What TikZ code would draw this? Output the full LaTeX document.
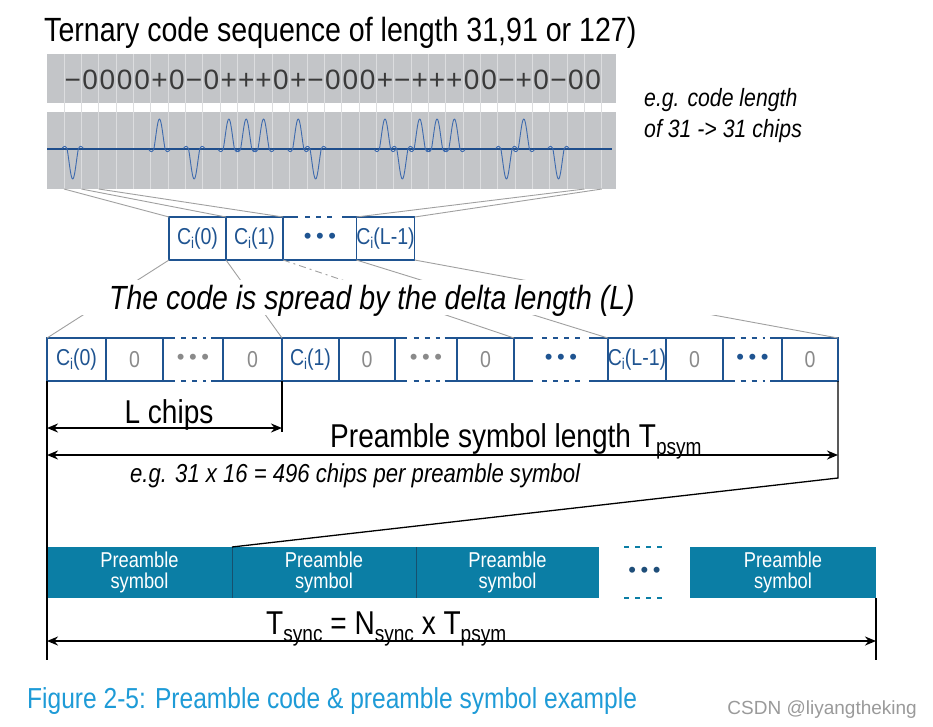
\documentclass[tikz,border=0pt]{standalone}
\usepackage{fontspec}
\usepackage{graphicx}
\setmainfont{Liberation Sans}
\newfontfamily\narrow{Liberation Sans}[FakeStretch=0.85]
\usetikzlibrary{arrows.meta,calc}
\definecolor{panelgrey}{HTML}{C3C5C8}
\definecolor{gridgrey}{HTML}{DCDDDF}
\definecolor{wavecol}{HTML}{3D6AAE}
\definecolor{wavebase}{HTML}{1F4E8C}
\definecolor{boxblue}{HTML}{1F5491}
\definecolor{zerogrey}{HTML}{8A8A8A}
\definecolor{spreadgrey}{HTML}{A0A0A0}
\definecolor{prefteal}{HTML}{0B7EA5}
\definecolor{pdark}{HTML}{17506E}
\definecolor{dotblue}{HTML}{1F4E79}
\definecolor{capblue}{HTML}{1E9BD7}
\definecolor{wmgrey}{HTML}{9A9A9A}
\definecolor{codegrey}{HTML}{3A3A3A}
\newcommand\dsub[2]{\raisebox{-#1}{\scalebox{0.68}{#2}}}
\newcommand\threedots{•\kern4.5pt•\kern4.5pt•}
\newcommand\dotedge[3][boxblue]{%
  \draw[edgeline,#1] (#2.#3 west) -- ($(#2.#3 west)!0.2!(#2.#3 east)$);
  \draw[edgeline,#1] ($(#2.#3 west)!0.8!(#2.#3 east)$) -- (#2.#3 east);
  \draw[edgeline,#1,dash pattern=on 5pt off 6pt] ($(#2.#3 west)!0.3!(#2.#3 east)$) -- ($(#2.#3 west)!0.72!(#2.#3 east)$);}
\begin{document}
\begin{tikzpicture}[x=1pt,y=-1pt,
  cbox/.style={draw=boxblue, line width=1.5pt, minimum height=43pt, inner sep=0pt, outer sep=0pt, font=\narrow\fontsize{23}{25}\selectfont, text=boxblue},
  zbox/.style={cbox, text=zerogrey},
  dbox/.style={minimum height=43pt, inner sep=0pt, outer sep=0pt, font=\fontsize{22}{24}\selectfont},
  pbox/.style={fill=prefteal, minimum height=51pt, inner sep=0pt, outer sep=0pt, text=white, align=center, font=\narrow\fontsize{21.5}{21}\selectfont},
  edgeline/.style={line width=1.5pt},
  spread/.style={spreadgrey, line width=0.9pt},
  tickline/.style={black, line width=1.3pt},
  dim/.style={line width=1.8pt, {Stealth[length=11pt,width=9pt]}-{Stealth[length=11pt,width=9pt]}},
  bigtxt/.style={font=\narrow\fontsize{33}{36}\selectfont},
  codech/.style={font=\fontsize{28}{30}\selectfont, text=codegrey, inner sep=0pt, anchor=base},
  wave/.style={wavecol, line width=0.9pt}]
\useasboundingbox (0,0) rectangle (933,726);
\fill[white] (0,0) rectangle (933,726);

% title
\node[anchor=base west, font=\narrow\fontsize{33.6}{36}\selectfont, inner sep=0pt] (title) at (44,41) {Ternary code sequence of length 31,91 or 127)};

% code panels
\fill[panelgrey] (47,54) rectangle (616,103);
\fill[panelgrey] (47,112) rectangle (616,189);
\foreach \k in {0,...,31} {
  \draw[gridgrey, line width=0.8pt] ({64+17.35*\k},54) -- ({64+17.35*\k},189);
  \coordinate (g\k) at ({64+17.35*\k},189);
}
\draw[wavebase, line width=1.6pt] (47,149) -- (612,149);
\foreach \s/\a [count=\k from 0] in {−/-1,0/0,0/0,0/0,0/0,+/1,0/0,−/-1,0/0,+/1,+/1,+/1,0/0,+/1,−/-1,0/0,0/0,0/0,+/1,−/-1,+/1,+/1,+/1,0/0,0/0,−/-1,+/1,0/0,−/-1,0/0,0/0} {
  \node[codech] (c\k) at ({72.7+17.35*\k},89) {\s};
  \ifnum\a=0 \else
    \draw[wave] plot[domain=-1.9:1.9, samples=39, smooth] ({72.7+17.35*\k+5.6*\x},{149-(\a)*30*sin(180*(\x))/(pi*(\x))*(abs(\x)<1 ? 1 : 0.4)});
  \fi
}

\node[anchor=base west, font=\narrow\itshape\fontsize{25}{30}\selectfont, inner sep=0pt] (eg1a) at (644,106) {e.g. code length};
\node[anchor=base west, font=\narrow\itshape\fontsize{25}{30}\selectfont, inner sep=0pt] (eg1b) at (644,137) {of 31 -> 31 chips};

% top row
\node[cbox, minimum width=57pt] (t0) at (197.5,238.5) {C\dsub{4pt}{i}(0)};
\node[cbox, minimum width=57pt] (t1) at (254.5,238.5) {C\dsub{4pt}{i}(1)};
\node[dbox, minimum width=74pt, text=boxblue] (t2) at (320,238.5) {\threedots};
\node[cbox, minimum width=57pt] (t3) at (385.5,238.5) {C\dsub{4pt}{i}(L-1)};
\draw[edgeline, boxblue] (t2.south west) -- (t2.south east);
\dotedge{t2}{north}

\draw[spread] (g0) -- (t0.north west);
\draw[spread] (g1) -- (t0.north east);
\draw[spread] (g2) -- (t1.north east);
\draw[spread] (g30) -- (t3.north west);
\draw[spread] (g31) -- (t3.north east);

% bottom row
\node[cbox, minimum width=59pt] (b1) at (76.5,359.5) {C\dsub{4pt}{i}(0)};
\node[zbox, minimum width=57pt] (b2) at (134.5,359.5) {0};
\node[dbox, minimum width=60pt, text=zerogrey] (b3) at (193,359.5) {\threedots};
\node[zbox, minimum width=59pt] (b4) at (252.5,359.5) {0};
\node[cbox, minimum width=57pt] (b5) at (310.5,359.5) {C\dsub{4pt}{i}(1)};
\node[zbox, minimum width=56pt] (b6) at (367,359.5) {0};
\node[dbox, minimum width=62pt, text=zerogrey] (b7) at (426,359.5) {\threedots};
\node[zbox, minimum width=57pt] (b8) at (485.5,359.5) {0};
\node[dbox, minimum width=94pt, text=boxblue] (b9) at (561,359.5) {\threedots};
\node[cbox, minimum width=58pt] (b10) at (637,359.5) {C\dsub{4pt}{i}(L-1)};
\node[zbox, minimum width=57pt] (b11) at (694.5,359.5) {0};
\node[dbox, minimum width=59pt, text=boxblue] (b12) at (752.5,359.5) {\threedots};
\node[zbox, minimum width=56pt] (b13) at (810,359.5) {0};
\foreach \b in {b3,b7,b9,b12} {
  \dotedge{\b}{north}
  \dotedge{\b}{south}
  \draw[boxblue, line width=2.2pt] (\b.north east) -- (\b.south east);
}

% spreading lines
\draw[spread] (t0.south west) -- (b1.north west);
\draw[spread] (t0.south east) -- (b5.north west);
\draw[spread, dash pattern=on 7pt off 4pt on 2pt off 4pt] (t1.south east) -- ($(t1.south east)!0.5!(b9.north west)$);
\draw[spread] ($(t1.south east)!0.5!(b9.north west)$) -- (b9.north west);
\draw[spread] (t3.south west) -- (b10.north west);
\draw[spread] (t3.south east) -- (b13.north east);
\fill[white] (40,280) rectangle (860,315);
\node[anchor=base, font=\narrow\itshape\fontsize{33.5}{36}\selectfont, inner sep=0pt] (spreadtxt) at (372,309) {The code is spread by the delta length (L)};

% preamble bar
\node[pbox, minimum width=185pt] (p1) at (139.5,572.5) {Preamble\\symbol};
\node[pbox, minimum width=184pt] (p2) at (324,572.5) {Preamble\\symbol};
\node[pbox, minimum width=183pt] (p3) at (507.5,572.5) {Preamble\\symbol};
\node[minimum width=91pt, minimum height=51pt, inner sep=0pt, outer sep=0pt, text=dotblue, font=\fontsize{22}{24}\selectfont] (pd) at (644.5,572.5) {\threedots};
\node[pbox, minimum width=186pt] (p4) at (783,572.5) {Preamble\\symbol};
\draw[pdark, line width=1pt] (p1.north east) -- (p1.south east);
\draw[pdark, line width=1pt] (p2.north east) -- (p2.south east);
\draw[prefteal, line width=1.5pt, dash pattern=on 5pt off 6pt] ($(pd.north west)!0.28!(pd.north east)$) -- ($(pd.north west)!0.74!(pd.north east)$);
\draw[prefteal, line width=1.5pt, dash pattern=on 5pt off 6pt] ($(pd.south west)!0.28!(pd.south east)$) -- ($(pd.south west)!0.74!(pd.south east)$);

% dimension lines
\coordinate (lbot) at (47,660);
\coordinate (lcend) at (282,432);
\coordinate (rturn) at (838,478);
\coordinate (rbot) at (876,660);
\coordinate (la) at (47,428);
\coordinate (lb) at (282,428);
\coordinate (pa) at (47,455);
\coordinate (pb) at (838,455);
\coordinate (sa) at (47,641);
\coordinate (sb) at (876,641);
\draw[tickline] (b1.south west) -- (lbot);
\draw[tickline] (b4.south east) -- (lcend);
\draw[tickline] (b13.south east) -- (rturn) -- (p2.north west);
\draw[tickline] (p4.south east) -- (rbot);
\draw[dim] (la) -- (lb);
\draw[dim] (pa) -- (pb);
\draw[dim] (sa) -- (sb);

\node[anchor=base, bigtxt, inner sep=0pt] (lchips) at (169,423) {L chips};
\node[anchor=base west, bigtxt, inner sep=0pt] (psl) at (330,447) {Preamble symbol length T\dsub{7pt}{psym}};
\node[anchor=base west, font=\narrow\itshape\fontsize{26}{28}\selectfont, inner sep=0pt] (eg2) at (130,482) {e.g. 31 x 16 = 496 chips per preamble symbol};
\node[anchor=base west, bigtxt, inner sep=0pt] (tsync) at (266,634) {T\dsub{7pt}{sync} = N\dsub{7pt}{sync} x T\dsub{7pt}{psym}};

% caption
\node[anchor=base west, font=\narrow\fontsize{28.9}{30}\selectfont, text=capblue, inner sep=0pt] (cap) at (27,708) {Figure 2-5: Preamble code \& preamble symbol example};
\node[anchor=base east, font=\fontsize{19}{20}\selectfont, text=wmgrey, inner sep=0pt] (wm) at (917,714) {CSDN @liyangtheking};
\end{tikzpicture}
\end{document}
